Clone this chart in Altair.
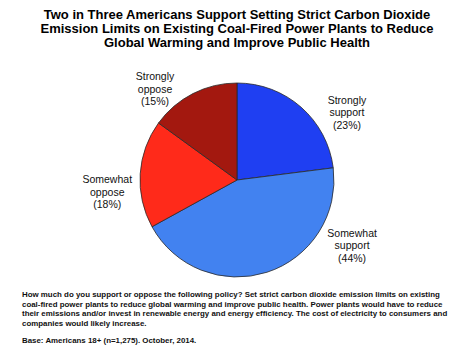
import altair as alt
import pandas as pd
import math

categories = ["Strongly support", "Somewhat support", "Somewhat oppose", "Strongly oppose"]
values = [23, 44, 18, 15]
colors = ["#1f3ff2", "#4282f0", "#ff2a1a", "#a3180f"]
label_lines = [
    ["Strongly", "support", "(23%)"],
    ["Somewhat", "support", "(44%)"],
    ["Somewhat", "oppose", "(18%)"],
    ["Strongly", "oppose", "(15%)"],
]
title_lines = [
    "Two in Three Americans Support Setting Strict Carbon Dioxide",
    "Emission Limits on Existing Coal-Fired Power Plants to Reduce",
    "Global Warming and Improve Public Health",
]
note_lines = [
    "How much do you support or oppose the following policy? Set strict carbon dioxide emission limits on existing",
    "coal-fired power plants to reduce global warming and improve public health. Power plants would have to reduce",
    "their emissions and/or invest in renewable energy and energy efficiency. The cost of electricity to consumers and",
    "companies would likely increase.",
]
base_line = "Base: Americans 18+ (n=1,275). October, 2014."

df = pd.DataFrame({
    "category": categories,
    "value": values,
    "idx": list(range(len(categories))),
    "label": ["\n".join(l) for l in label_lines],
})

FONT = "Liberation Sans"
TOTAL = sum(values)

pie = alt.Chart(df).mark_arc(outerRadius=97, stroke="#2a2a2a", strokeWidth=0.8).encode(
    theta=alt.Theta("value:Q", stack=True),
    order=alt.Order("idx:Q"),
    color=alt.Color("category:N", scale=alt.Scale(domain=categories, range=colors), legend=None),
)

# labels: mid-angle of each slice, computed from cumulative values
lab_base = alt.Chart(df).transform_window(
    cum="sum(value)", sort=[alt.SortField("idx")], frame=[None, 0]
).transform_calculate(mid="datum.cum - datum.value / 2")

label_place = {
    "Strongly support": (30.6, 10.6),
    "Somewhat support": (78, -60.5),
    "Somewhat oppose": (-10, 8),
    "Strongly oppose": (-27.5, 4.4),
}
label_layers = []
for c in categories:
    dx, dy = label_place[c]
    label_layers.append(
        lab_base.transform_filter(alt.datum.category == c).mark_text(
            radius=120, dx=dx, dy=dy, font=FONT, fontSize=10.5,
            lineBreak="\n", lineHeight=12.5, align="center",
            baseline="middle", color="#111"
        ).encode(
            theta=alt.Theta("mid:Q", scale=alt.Scale(domain=[0, TOTAL], range=[0, 2 * math.pi])),
            text="label:N",
        )
    )

note = alt.Chart(pd.DataFrame({"t": ["\n".join(note_lines)]})).mark_text(
    font=FONT, fontSize=7.9, fontWeight="bold", align="left", baseline="alphabetic",
    lineBreak="\n", lineHeight=9.5, color="#111"
).encode(text="t:N", x=alt.value(14), y=alt.value(237.3))

base_note = alt.Chart(pd.DataFrame({"t": [base_line]})).mark_text(
    font=FONT, fontSize=7.9, fontWeight="bold", align="left", baseline="alphabetic",
    color="#111"
).encode(text="t:N", x=alt.value(14), y=alt.value(283.3))

chart = alt.layer(pie, *label_layers, note, base_note).properties(
    width=458,
    height=240,
    padding={"left": 0, "right": 0, "top": 52, "bottom": 47},
    autosize=alt.AutoSizeParams(type="none"),
    title=alt.TitleParams(title_lines, anchor="middle", frame="group", font=FONT,
                          fontSize=13, fontWeight="bold", lineHeight=14.2, color="#000",
                          offset=10),
).configure_view(stroke=None)

chart.save("out.html", embed_options={"renderer": "svg", "actions": False})
